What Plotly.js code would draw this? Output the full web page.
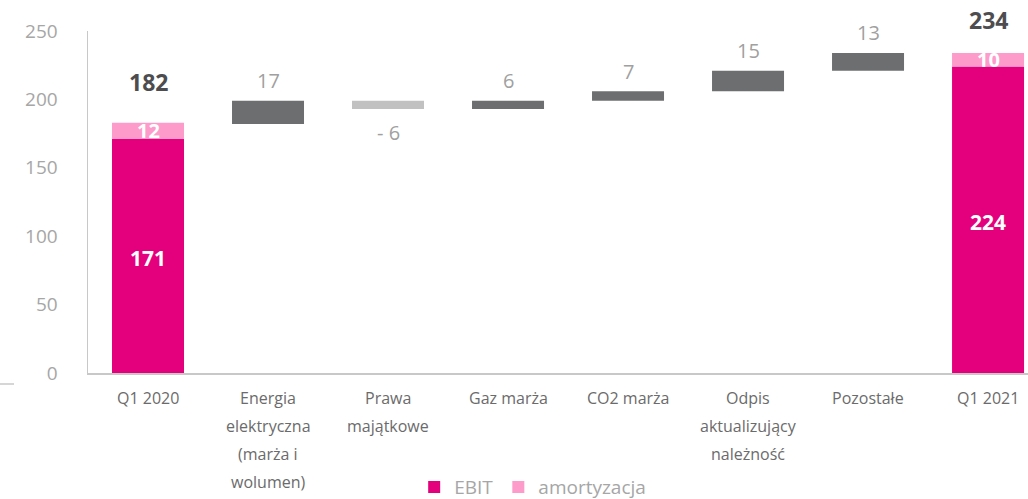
<!DOCTYPE html>
<html>
<head>
<meta charset="utf-8">
<script src="https://cdn.plot.ly/plotly-3.0.1.min.js"></script>
<style>
  html, body { margin: 0; padding: 0; background: #ffffff; }
  #chart { width: 1028px; height: 499px; }
</style>
</head>
<body>
<div id="chart"></div>
<script>
// ---- data ----
const categories = ['Q1 2020', 'Energia elektryczna (marża i wolumen)', 'Prawa majątkowe', 'Gaz marża', 'CO2 marża', 'Odpis aktualizujący należność', 'Pozostałe', 'Q1 2021'];
const tickLabels = ['Q1 2020', 'Energia<br>elektryczna<br>(marża i<br>wolumen)', 'Prawa<br>majątkowe', 'Gaz marża', 'CO2 marża', 'Odpis<br>aktualizujący<br>należność', 'Pozostałe', 'Q1 2021'];
const totalCats = ['Q1 2020', 'Q1 2021'];
const ebit = [171, 224];
const amortyzacja = [12, 10];
const totals = [182, 234];
const stepCats = categories.slice(1, 7);
const stepBase = [182, 199, 193, 199, 206, 221];
const stepDelta = [17, -6, 6, 7, 15, 13];

// ---- styles ----
const FONT = '"Open Sans", "Noto Sans", sans-serif';
const C_EBIT = '#e4007c';
const C_AMORT = '#fd9bcb';
const C_DARK = '#6d6e70';
const C_LIGHT = '#c1c1c1';
const stepColors = stepDelta.map(d => d < 0 ? C_LIGHT : C_DARK);
const totalShift = [41, 33];

const traces = [
  {
    type: 'bar', name: 'EBIT', x: totalCats, y: ebit,
    marker: { color: C_EBIT }, hoverinfo: 'skip'
  },
  {
    type: 'bar', name: 'amortyzacja', x: totalCats, y: amortyzacja, base: ebit,
    marker: { color: C_AMORT }, hoverinfo: 'skip'
  },
  {
    type: 'bar', name: 'zmiana', x: stepCats, y: stepDelta, base: stepBase,
    marker: { color: stepColors }, showlegend: false, hoverinfo: 'skip'
  }
];

const annotations = [];
// category labels (one annotation per line, with wide line spacing)
tickLabels.forEach((lbl, i) => {
  lbl.split('<br>').forEach((line, j) => {
    annotations.push({
      x: categories[i], y: 0, xref: 'x', yref: 'y',
      text: line, showarrow: false, yanchor: 'middle', xanchor: 'center',
      yshift: -(25 + 28 * j),
      font: { family: FONT, size: 16, color: '#6b6b6b' }
    });
  });
});
// step value labels
stepCats.forEach((c, i) => {
  const d = stepDelta[i];
  annotations.push({
    x: c, y: stepBase[i] + d, xref: 'x', yref: 'y',
    text: d < 0 ? '- ' + Math.abs(d) : String(d),
    showarrow: false, yanchor: 'middle', xanchor: 'center',
    yshift: d < 0 ? -24 : 20,
    font: { family: FONT, size: 20, color: '#a0a0a0' }
  });
});
// totals and inside labels
totalCats.forEach((c, i) => {
  annotations.push({
    x: c, y: ebit[i] + amortyzacja[i], xref: 'x', yref: 'y',
    text: '<b>' + totals[i] + '</b>', showarrow: false, yanchor: 'middle',
    yshift: totalShift[i],
    font: { family: FONT, size: 23, color: '#4d4d4f' }
  });
  annotations.push({
    x: c, y: ebit[i] / 2, xref: 'x', yref: 'y',
    text: '<b>' + ebit[i] + '</b>', showarrow: false, yanchor: 'middle',
    yshift: -2,
    font: { family: FONT, size: 21, color: '#ffffff' }
  });
  annotations.push({
    x: c, y: ebit[i] + amortyzacja[i] / 2, xref: 'x', yref: 'y',
    text: '<b>' + amortyzacja[i] + '</b>', showarrow: false, yanchor: 'middle',
    font: { family: FONT, size: 20, color: '#ffffff' }
  });
});

const layout = {
  width: 1028, height: 499,
  margin: { l: 88, r: 0, t: 31, b: 126, pad: 0, autoexpand: false },
  paper_bgcolor: '#ffffff', plot_bgcolor: '#ffffff',
  barmode: 'overlay', bargap: 0.4,
  showlegend: true,
  legend: {
    orientation: 'h', x: 0.347, y: -0.278, xanchor: 'left', yanchor: 'top',
    font: { family: FONT, size: 19, color: '#a6a6a6' },
    bgcolor: 'rgba(0,0,0,0)'
  },
  xaxis: {
    type: 'category', categoryorder: 'array', categoryarray: categories,
    range: [-0.5, 7.333], showticklabels: false, ticks: '',
    showline: true, linecolor: '#c8c8c8', linewidth: 1.5,
    showgrid: false, zeroline: false, fixedrange: true
  },
  yaxis: {
    range: [0, 250], dtick: 50, tick0: 0,
    showline: true, linecolor: '#c8c8c8', linewidth: 1.5,
    ticks: 'outside', ticklen: 25, tickcolor: 'rgba(0,0,0,0)',
    showgrid: false, zeroline: false, fixedrange: true,
    tickfont: { family: FONT, size: 19, color: '#a6a6a6' }
  },
  shapes: [
    { type: 'line', xref: 'paper', yref: 'paper',
      x0: -88 / 940, x1: -74 / 940, y0: -11 / 342, y1: -11 / 342,
      line: { color: '#c8c8c8', width: 1.5 } }
  ],
  annotations: annotations
};

Plotly.newPlot('chart', traces, layout, { displayModeBar: false, staticPlot: true });
</script>
</body>
</html>
